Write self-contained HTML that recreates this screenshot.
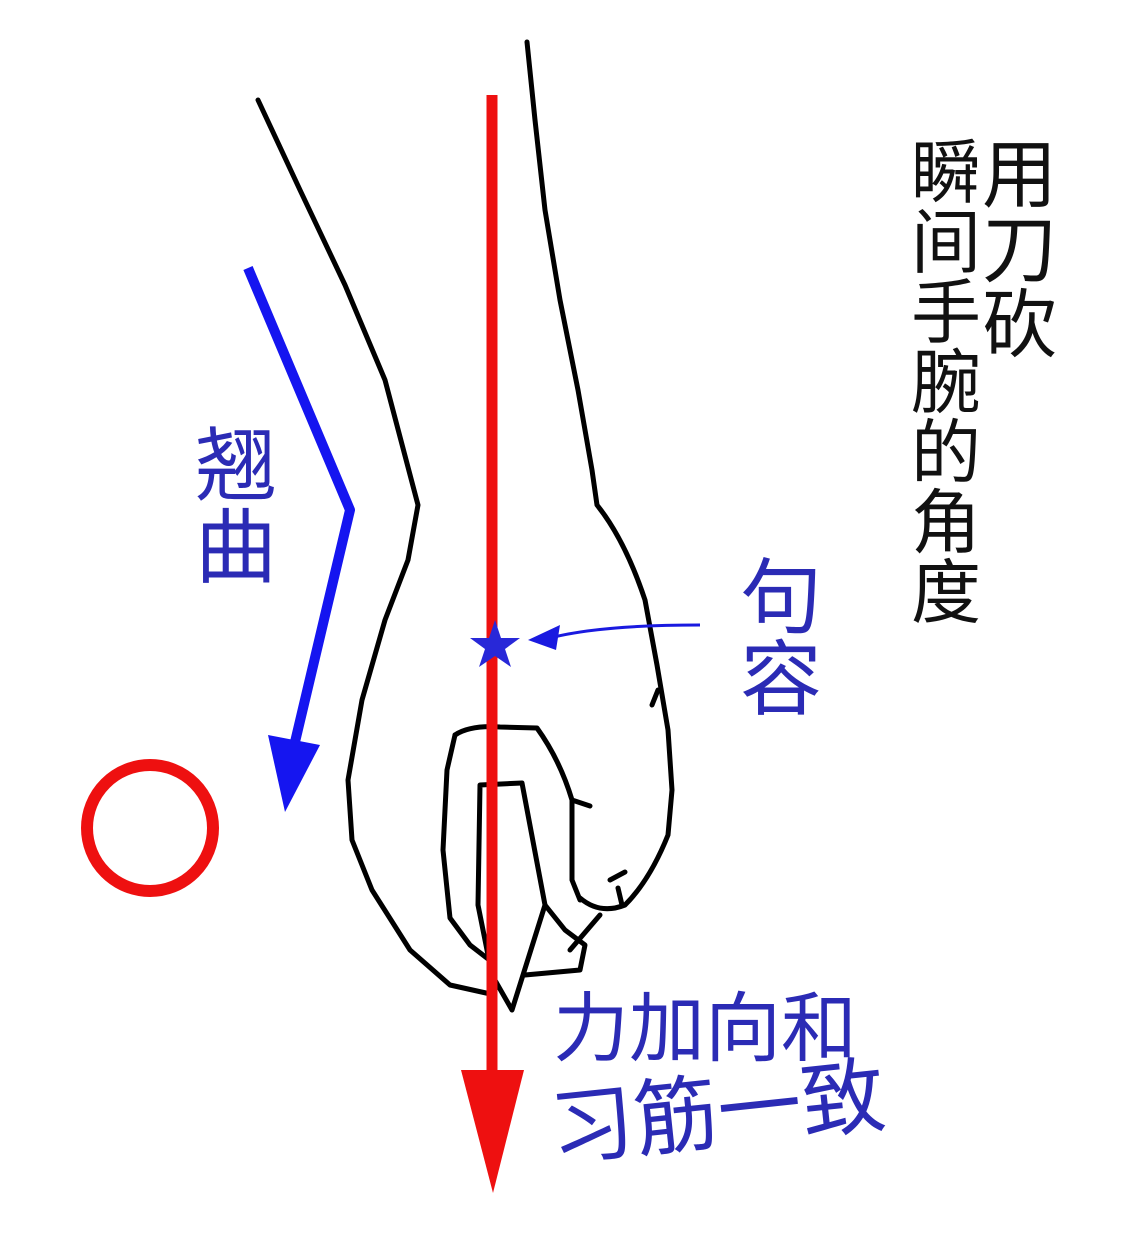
<!DOCTYPE html>
<html><head><meta charset="utf-8"><style>
html,body{margin:0;padding:0;background:#fff;}
body{width:1138px;height:1242px;position:relative;overflow:hidden;}
.t{position:absolute;font-family:"Liberation Sans","Noto Sans CJK SC",sans-serif;line-height:1;white-space:nowrap;}
.b{color:#2b2bb5;}
.v{width:1em;white-space:normal;word-break:break-all;}
</style></head><body>
<svg width="1138" height="1242" style="position:absolute;left:0;top:0">
<g fill="none" stroke="#000" stroke-width="5" stroke-linecap="round" stroke-linejoin="round">
<path d="M258,100 L300,190 L345,285 L385,380 L418,505 L408,560 L385,620 L362,700 L348,780 L352,840 L372,890 L410,950 L450,985 L495,995"/>
<path d="M527,42 L535,120 L545,210 L560,300 L578,390 L592,470 L597,505 Q625,540 645,600 L657,665 L668,730 L672,790 L668,835 Q650,880 625,905 Q600,915 580,898"/>
<path d="M455,735 Q470,725 500,727 L537,728 Q560,760 572,800 L590,806"/>
<path d="M572,800 L572,880 L580,900"/>
<path d="M455,735 L447,770 L443,850 L450,918 L470,945 L492,962"/>
<path d="M480,785 L522,783 L545,905 L512,1010 L492,975 L478,905 Z"/>
<path d="M545,905 L565,930 L585,945 L580,970 L525,975"/>
<path d="M600,915 L570,950"/>
<path d="M610,880 L625,872 M618,888 L622,905"/>
<path d="M658,690 L652,705"/>
</g>
<circle cx="150" cy="828" r="63" fill="none" stroke="#ee1010" stroke-width="12"/>
<line x1="492" y1="95" x2="492" y2="1080" stroke="#ee1010" stroke-width="11"/>
<polygon points="461,1070 524,1070 493,1193" fill="#ee1010"/>
<polyline points="248,268 350,510 295,742" fill="none" stroke="#1515f0" stroke-width="10" stroke-linejoin="round"/>
<polygon points="268,735 320,745 285,812" fill="#1515f0"/>
<path d="M700,625 Q600,625 550,638" fill="none" stroke="#1a1ae0" stroke-width="3"/>
<polygon points="528,640 560,625 556,650" fill="#1a1ae0"/>
<polygon points="495,620 501,638 520,638 505,649 511,667 495,656 479,667 485,649 470,638 489,638" fill="#2828d8"/>
</svg>
<div class="t b v" style="left:195px;top:426px;font-size:82px;">翘曲</div>
<div class="t b v" style="left:740px;top:558px;font-size:82px;">句容</div>
<div class="t b" style="left:553px;top:992px;font-size:76px;">力加向和</div>
<div class="t b" style="left:555px;top:1088px;font-size:84px;transform:rotate(-6deg);transform-origin:left bottom;">习筋一致</div>
<div class="t v" style="left:982px;top:138px;font-size:75px;color:#111;">用刀砍</div>
<div class="t v" style="left:911px;top:138px;font-size:70px;color:#111;">瞬间手腕的角度</div>
</body></html>
